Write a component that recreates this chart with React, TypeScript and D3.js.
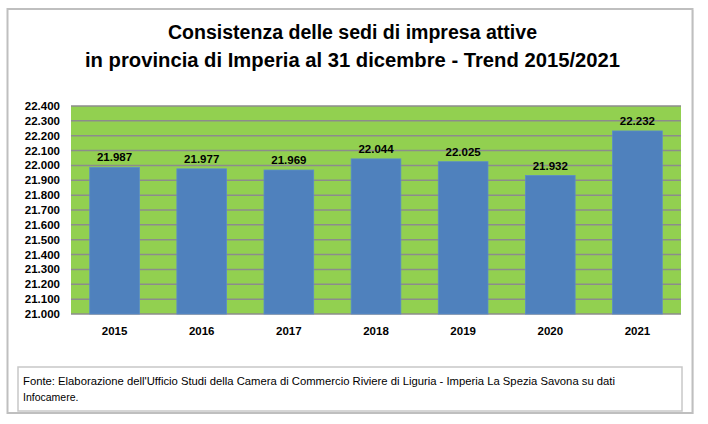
import React from "react";
import * as d3 from "d3";

const years = ["2015", "2016", "2017", "2018", "2019", "2020", "2021"];
const activeSeats = [21987, 21977, 21969, 22044, 22025, 21932, 22232];
const yTicks = [21000, 21100, 21200, 21300, 21400, 21500, 21600, 21700, 21800, 21900, 22000, 22100, 22200, 22300, 22400];
const titleLines = [
  "Consistenza delle sedi di impresa attive",
  "in provincia di Imperia al 31 dicembre  - Trend 2015/2021",
];
const sourceLines = [
  "Fonte: Elaborazione dell'Ufficio Studi della Camera di Commercio Riviere di Liguria - Imperia La Spezia Savona su dati",
  "Infocamere.",
];

const W = 708;
const H = 424;
const plot = { left: 71, right: 681, top: 106, bottom: 314 };
const FONT = "'Liberation Sans Narrow', 'Liberation Sans', Arial, sans-serif";

const fmt = (v: number) => d3.format(",")(v).replace(/,/g, ".");

export default function App() {
  const x = d3
    .scaleBand<string>()
    .domain(years)
    .range([plot.left, plot.right])
    .paddingInner(0.43)
    .paddingOuter(0.215);
  const y = d3.scaleLinear().domain([21000, 22400]).range([plot.bottom, plot.top]);

  const titleWidths = [369, 535];

  return (
    <svg
      width={W}
      height={H}
      style={{ position: "absolute", left: 0, top: 0, background: "#fff" }}
      fontFamily={FONT}
    >
      {/* chart frame */}
      <rect x={8.5} y={10} width={685} height={404} fill="#e0e0e0" />
      <rect x={7.5} y={9} width={685} height={404} fill="#fff" stroke="#bfbfbf" strokeWidth={2} />

      {/* title */}
      {titleLines.map((t, i) => (
        <text
          key={i}
          x={352.5}
          y={39 + i * 28}
          textAnchor="middle"
          fontSize={20}
          fontWeight="bold"
          fill="#000"
          textLength={titleWidths[i]}
          lengthAdjust="spacingAndGlyphs"
        >
          {t}
        </text>
      ))}

      {/* plot background */}
      <rect
        x={plot.left}
        y={plot.top}
        width={plot.right - plot.left}
        height={plot.bottom - plot.top}
        fill="#92D050"
      />

      {/* gridlines */}
      {yTicks.map((t) => (
        <line
          key={t}
          x1={plot.left}
          x2={plot.right}
          y1={y(t)}
          y2={y(t)}
          stroke="#8c8c8c"
          strokeWidth={1.5}
        />
      ))}

      {/* y tick labels */}
      {yTicks.map((t) => (
        <text
          key={"l" + t}
          x={60}
          y={y(t)}
          dy="0.35em"
          textAnchor="end"
          fontSize={11.5}
          fontWeight="bold"
          fill="#000"
        >
          {fmt(t)}
        </text>
      ))}

      {/* bars */}
      {years.map((yr, i) => (
        <rect
          key={yr}
          x={x(yr)}
          y={y(activeSeats[i])}
          width={x.bandwidth()}
          height={plot.bottom - y(activeSeats[i])}
          fill="#4F81BD"
          stroke="#5a8ccb"
          strokeWidth={0.8}
        />
      ))}

      {/* value labels */}
      {years.map((yr, i) => (
        <text
          key={"v" + yr}
          x={(x(yr) as number) + x.bandwidth() / 2}
          y={y(activeSeats[i]) - 6}
          textAnchor="middle"
          fontSize={11.5}
          fontWeight="bold"
          fill="#000"
        >
          {fmt(activeSeats[i])}
        </text>
      ))}

      {/* x labels */}
      {years.map((yr) => (
        <text
          key={"x" + yr}
          x={(x(yr) as number) + x.bandwidth() / 2}
          y={335}
          textAnchor="middle"
          fontSize={11.5}
          fontWeight="bold"
          fill="#000"
        >
          {yr}
        </text>
      ))}

      {/* source note */}
      <rect x={18} y={367} width={664} height={44} fill="#fff" stroke="#c8c8c8" strokeWidth={1.5} />
      {sourceLines.map((t, i) => (
        <text
          key={"s" + i}
          x={23}
          y={385 + i * 16}
          fontSize={10.5}
          fill="#000"
          textLength={i === 0 ? 592 : undefined}
          lengthAdjust="spacingAndGlyphs"
        >
          {t}
        </text>
      ))}
    </svg>
  );
}
